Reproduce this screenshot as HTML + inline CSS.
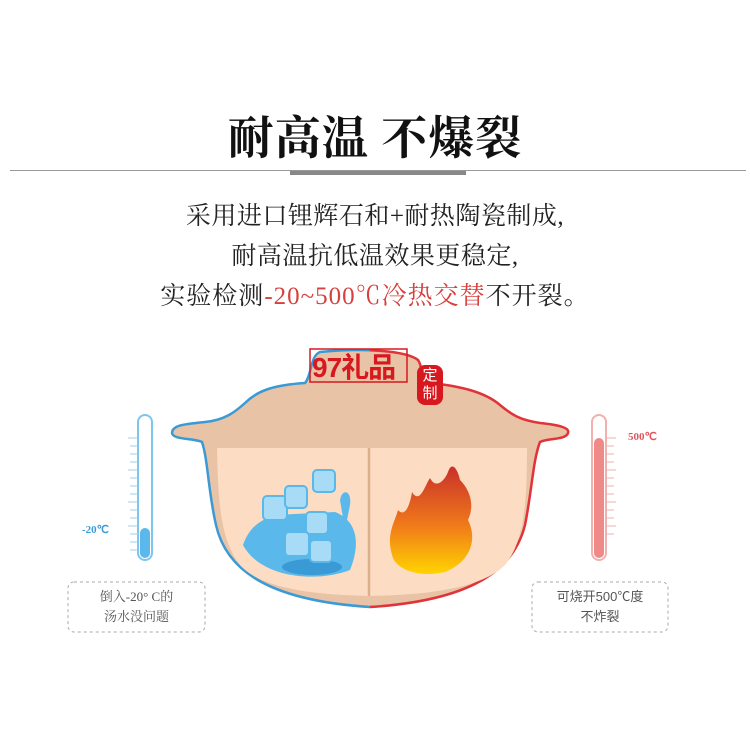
<!DOCTYPE html>
<html><head><meta charset="utf-8"><style>
body{margin:0;width:750px;height:750px;background:#fff;position:relative;overflow:hidden;font-family:"Liberation Serif","Noto Serif CJK SC",serif}
.t{position:absolute;left:0;width:750px;text-align:center;color:#222}
</style></head><body>
<div class="t" style="top:102px;font-size:46px;font-weight:bold;letter-spacing:1px;color:#111">耐高温 不爆裂</div>
<div style="position:absolute;left:10px;top:170px;width:736px;height:1px;background:#999"></div>
<div style="position:absolute;left:290px;top:171px;width:176px;height:4px;background:#888"></div>
<div class="t" style="top:196px;font-size:25px;letter-spacing:0.5px">采用进口锂辉石和+耐热陶瓷制成,</div>
<div class="t" style="top:236px;font-size:25px;letter-spacing:0.5px">耐高温抗低温效果更稳定,</div>
<div class="t" style="top:276px;font-size:25px;letter-spacing:1px">实验检测<span style="color:#d6413f">-20~500℃冷热交替</span>不开裂。</div>
<svg width="750" height="750" style="position:absolute;left:0;top:0">
<defs><linearGradient id="fl" x1="0" y1="0" x2="0" y2="1"><stop offset="0" stop-color="#c9302a"/><stop offset="0.55" stop-color="#f07a1a"/><stop offset="1" stop-color="#ffd400"/></linearGradient>
<clipPath id="L"><rect x="0" y="0" width="370" height="750"/></clipPath><clipPath id="R"><rect x="370" y="0" width="400" height="750"/></clipPath></defs>
<path id="pot" d="M320 352 C360 348 405 350 418 360 C424 368 418 378 430 383 C460 386 485 392 500 405 C512 415 520 420 540 423 C560 425 570 428 568 433 C566 440 548 438 540 442 C533 460 532 490 525 525 C515 565 480 600 370 607 C260 600 225 565 216 525 C208 490 208 460 202 442 C194 438 173 440 172 433 C172 425 185 424 205 422 C225 420 235 412 245 403 C258 390 275 385 305 383 C312 375 310 356 320 352 Z" fill="#e8c3a5"/>
<use href="#pot" fill="none" stroke="#3a9ad6" stroke-width="2.5" clip-path="url(#L)"/>
<use href="#pot" fill="none" stroke="#e0333a" stroke-width="2.5" clip-path="url(#R)"/>
<path d="M217 448 L527 448 C527 500 525 540 505 565 C480 590 420 595 370 596 C320 595 262 590 240 565 C220 540 218 500 217 448Z" fill="#fcdcc3"/>
<line x1="369" y1="448" x2="369" y2="596" stroke="#ddb08c" stroke-width="2.5"/>
<g fill="#5ab8ea"><path d="M243 545 C250 525 262 520 275 515 L335 512 C355 520 362 540 350 570 C320 582 262 580 243 545Z"/>
<ellipse cx="312" cy="567" rx="30" ry="8" fill="#3a9ad6"/>
<rect x="263" y="496" width="24" height="24" rx="4" fill="#a8dcf6" stroke="#5ab8ea" stroke-width="2"/>
<rect x="285" y="486" width="22" height="22" rx="4" fill="#a8dcf6" stroke="#5ab8ea" stroke-width="2"/>
<rect x="313" y="470" width="22" height="22" rx="4" fill="#a8dcf6" stroke="#5ab8ea" stroke-width="2"/>
<rect x="306" y="512" width="22" height="22" rx="4" fill="#a8dcf6" stroke="#5ab8ea" stroke-width="2"/>
<rect x="285" y="532" width="24" height="24" rx="4" fill="#a8dcf6" stroke="#5ab8ea" stroke-width="2"/>
<rect x="310" y="540" width="22" height="22" rx="4" fill="#a8dcf6" stroke="#5ab8ea" stroke-width="2"/>
<path d="M340 500 C342 488 352 490 350 505 L345 530 Z"/></g>
<path d="M393 558 C385 535 395 522 398 510 C405 518 410 505 412 492 C420 505 425 485 430 478 C436 490 445 480 448 472 C452 460 458 470 460 480 C470 490 475 505 468 520 C478 540 470 562 445 572 C420 578 398 570 393 558Z" fill="url(#fl)"/>
<rect x="138" y="415" width="14" height="145" rx="7" fill="#fff" stroke="#7cc6ee" stroke-width="2"/>
<rect x="140" y="528" width="10" height="30" rx="5" fill="#5ab8ea"/>
<g stroke="#9ed0ee" stroke-width="1">
<line x1="128" y1="438" x2="138" y2="438"/><line x1="130" y1="446" x2="138" y2="446"/><line x1="130" y1="454" x2="138" y2="454"/><line x1="130" y1="462" x2="138" y2="462"/><line x1="128" y1="470" x2="138" y2="470"/><line x1="130" y1="478" x2="138" y2="478"/><line x1="130" y1="486" x2="138" y2="486"/><line x1="130" y1="494" x2="138" y2="494"/><line x1="128" y1="502" x2="138" y2="502"/><line x1="130" y1="510" x2="138" y2="510"/><line x1="130" y1="518" x2="138" y2="518"/><line x1="128" y1="526" x2="138" y2="526"/><line x1="130" y1="534" x2="138" y2="534"/><line x1="130" y1="542" x2="138" y2="542"/><line x1="130" y1="550" x2="138" y2="550"/></g>
<rect x="592" y="415" width="14" height="145" rx="7" fill="#fff" stroke="#f2b0ae" stroke-width="2"/>
<rect x="594" y="438" width="10" height="120" rx="5" fill="#ef8a88"/>
<g stroke="#f2b0ae" stroke-width="1">
<line x1="606" y1="438" x2="616" y2="438"/><line x1="606" y1="446" x2="614" y2="446"/><line x1="606" y1="454" x2="614" y2="454"/><line x1="606" y1="462" x2="614" y2="462"/><line x1="606" y1="470" x2="616" y2="470"/><line x1="606" y1="478" x2="614" y2="478"/><line x1="606" y1="486" x2="614" y2="486"/><line x1="606" y1="494" x2="614" y2="494"/><line x1="606" y1="502" x2="616" y2="502"/><line x1="606" y1="510" x2="614" y2="510"/><line x1="606" y1="518" x2="614" y2="518"/><line x1="606" y1="526" x2="616" y2="526"/><line x1="606" y1="534" x2="614" y2="534"/></g>
<rect x="68" y="582" width="137" height="50" rx="6" fill="none" stroke="#aaa" stroke-dasharray="3,3"/>
<rect x="532" y="582" width="136" height="50" rx="6" fill="none" stroke="#aaa" stroke-dasharray="3,3"/>
<rect x="310" y="349" width="97" height="33" fill="none" stroke="#d8181f" stroke-width="1.5"/>
<rect x="417" y="365" width="26" height="40" rx="8" fill="#d8181f"/>
</svg>
<div style="position:absolute;left:312px;top:346px;font:bold 28px 'Liberation Sans','Noto Sans CJK SC',sans-serif;color:#d8181f;letter-spacing:-1px">97礼品</div>
<div style="position:absolute;left:419px;top:366px;font:15px 'Noto Sans CJK SC',sans-serif;color:#fff;line-height:18px;width:22px;text-align:center">定<br>制</div>
<div style="position:absolute;left:82px;top:523px;font:bold 11px 'Liberation Serif',serif;color:#3a9ad6">-20℃</div>
<div style="position:absolute;left:628px;top:430px;font:bold 11px 'Liberation Serif',serif;color:#e0555a">500℃</div>
<div style="position:absolute;left:68px;top:587px;width:137px;text-align:center;font-size:13px;color:#555;line-height:20px">倒入-20° C的<br>汤水没问题</div>
<div style="position:absolute;left:532px;top:587px;width:136px;text-align:center;font-size:13px;color:#555;line-height:20px;font-family:'Liberation Sans','Noto Sans CJK SC',sans-serif">可烧开500℃度<br>不炸裂</div>
</body></html>
